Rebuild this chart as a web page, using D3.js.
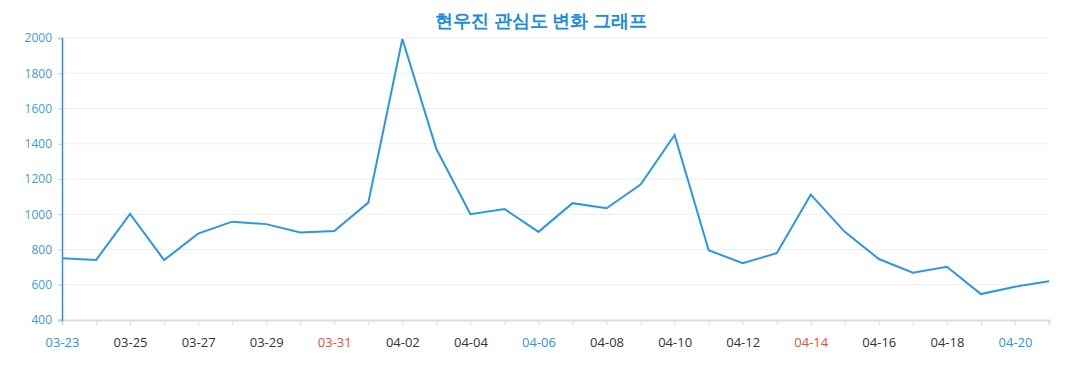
<!DOCTYPE html>
<html>
<head>
<meta charset="utf-8">
<script src="https://cdn.jsdelivr.net/npm/d3@7"></script>
<style>
  body { margin: 0; background: #fff; }
  text { font-family: "Open Sans", "Noto Sans", sans-serif; }
</style>
</head>
<body>
<script>
// dates shown on the x axis (one point per day)
const dates = ["03-23","03-24","03-25","03-26","03-27","03-28","03-29","03-30","03-31",
  "04-01","04-02","04-03","04-04","04-05","04-06","04-07","04-08","04-09","04-10",
  "04-11","04-12","04-13","04-14","04-15","04-16","04-17","04-18","04-19","04-20","04-21"];
const values = [750, 740, 1002, 740, 890, 958, 944, 896, 905,
  1066, 1994, 1370, 1000, 1030, 900, 1063, 1034, 1168, 1450,
  796, 722, 779, 1111, 900, 746, 668, 702, 547, 589, 620];
const yTicks = [400, 600, 800, 1000, 1200, 1400, 1600, 1800, 2000];
// label colours: weekends / holidays
const blueDays = ["03-23", "04-06", "04-20"];
const redDays = ["03-31", "04-14"];

const width = 1077, height = 390;
const margin = {top: 38, right: 28, bottom: 70, left: 62};

const svg = d3.select("body").append("svg")
  .attr("width", width)
  .attr("height", height);

const x = d3.scalePoint()
  .domain(dates)
  .range([margin.left, width - margin.right]);

const y = d3.scaleLinear()
  .domain([400, 2000])
  .range([height - margin.bottom, margin.top]);

// grid
svg.append("g")
  .selectAll("line")
  .data(yTicks.slice(1))
  .join("line")
  .attr("x1", margin.left)
  .attr("x2", width - margin.right)
  .attr("y1", d => y(d))
  .attr("y2", d => y(d))
  .attr("stroke", "#eeeeee");

// x axis
const xAxis = svg.append("g")
  .attr("transform", `translate(0,${height - margin.bottom})`)
  .call(d3.axisBottom(x)
    .tickSizeOuter(0)
    .tickSize(5)
    .tickFormat((d, i) => i % 2 === 0 ? d : ""));
xAxis.select(".domain").attr("stroke", "#dddddd").attr("stroke-width", 2);
xAxis.selectAll(".tick line").attr("stroke", "#dddddd");
xAxis.selectAll(".tick text")
  .attr("y", 14)
  .attr("dy", "1em")
  .attr("font-size", 13)
  .attr("fill", d => blueDays.includes(d) ? "#2f96d3" : redDays.includes(d) ? "#e0533a" : "#333");

// y axis
const yAxis = svg.append("g")
  .attr("transform", `translate(${margin.left},0)`)
  .call(d3.axisLeft(y).tickValues(yTicks).tickFormat(d3.format("d")).tickSize(4).tickPadding(6));
yAxis.select(".domain").attr("stroke", "#2d8fd5").attr("stroke-width", 1.5);
yAxis.selectAll(".tick line").attr("stroke", "#cccccc");
yAxis.selectAll(".tick text").attr("font-size", 12).attr("fill", "#3b9bd8");

// line
const line = d3.line()
  .x((d, i) => x(dates[i]))
  .y(d => y(d));

svg.append("path")
  .datum(values)
  .attr("fill", "none")
  .attr("stroke", "#2b97e2")
  .attr("stroke-width", 2)
  .attr("stroke-linejoin", "miter")
  .attr("d", line);

// title
svg.append("text")
  .attr("x", 541)
  .attr("y", 27)
  .attr("text-anchor", "middle")
  .attr("font-family", "'Noto Sans CJK KR', sans-serif")
  .attr("font-weight", "bold")
  .attr("font-size", 18)
  .attr("fill", "#1a8ce0")
  .text("현우진 관심도 변화 그래프");
</script>
</body>
</html>
